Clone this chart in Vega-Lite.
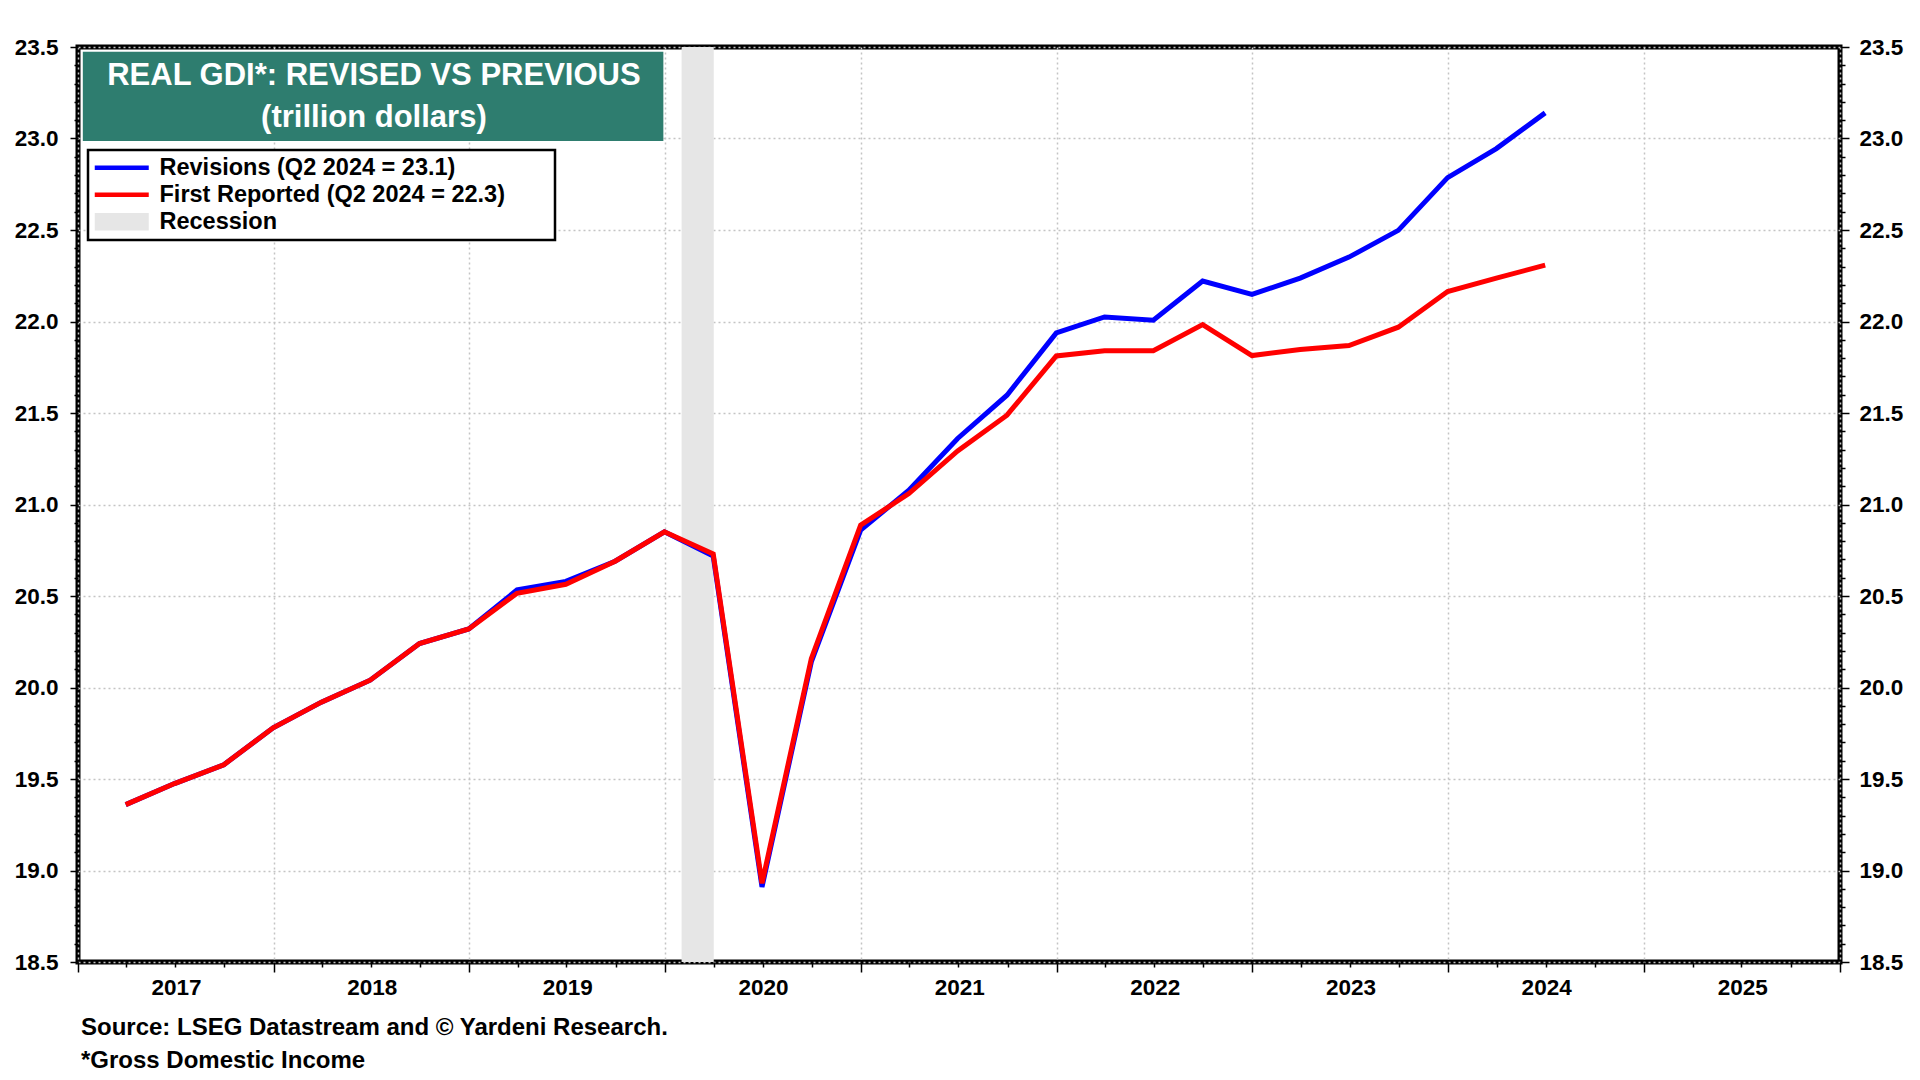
{
  "$schema": "https://vega.github.io/schema/vega-lite/v6.json",
  "width": 1762,
  "height": 915,
  "autosize": {"type": "none"},
  "padding": {"left": 78, "top": 47, "right": 80, "bottom": 118},
  "background": "white",
  "title": {
    "text": ["Source: LSEG Datastream and © Yardeni Research.", "*Gross Domestic Income"],
    "orient": "bottom",
    "anchor": "start",
    "frame": "group",
    "font": "Liberation Sans",
    "fontSize": 24,
    "fontWeight": "bold",
    "color": "black",
    "lineHeight": 33,
    "offset": 17,
    "dx": 3
  },
  "datasets": {
    "recession": [
      {"label": "Recession", "start": "2020-02-01T00:00:00", "end": "2020-04-01T00:00:00"}
    ],
    "gdi": [
      {"date": "2017-03-31T00:00:00", "series": "Revisions (Q2 2024 = 23.1)", "value": 19.36},
      {"date": "2017-06-30T00:00:00", "series": "Revisions (Q2 2024 = 23.1)", "value": 19.475},
      {"date": "2017-09-30T00:00:00", "series": "Revisions (Q2 2024 = 23.1)", "value": 19.578},
      {"date": "2017-12-31T00:00:00", "series": "Revisions (Q2 2024 = 23.1)", "value": 19.78},
      {"date": "2018-03-31T00:00:00", "series": "Revisions (Q2 2024 = 23.1)", "value": 19.92},
      {"date": "2018-06-30T00:00:00", "series": "Revisions (Q2 2024 = 23.1)", "value": 20.04},
      {"date": "2018-09-30T00:00:00", "series": "Revisions (Q2 2024 = 23.1)", "value": 20.24},
      {"date": "2018-12-31T00:00:00", "series": "Revisions (Q2 2024 = 23.1)", "value": 20.32},
      {"date": "2019-03-31T00:00:00", "series": "Revisions (Q2 2024 = 23.1)", "value": 20.533},
      {"date": "2019-06-30T00:00:00", "series": "Revisions (Q2 2024 = 23.1)", "value": 20.58},
      {"date": "2019-09-30T00:00:00", "series": "Revisions (Q2 2024 = 23.1)", "value": 20.69},
      {"date": "2019-12-31T00:00:00", "series": "Revisions (Q2 2024 = 23.1)", "value": 20.851},
      {"date": "2020-03-31T00:00:00", "series": "Revisions (Q2 2024 = 23.1)", "value": 20.718},
      {"date": "2020-06-30T00:00:00", "series": "Revisions (Q2 2024 = 23.1)", "value": 18.91},
      {"date": "2020-09-30T00:00:00", "series": "Revisions (Q2 2024 = 23.1)", "value": 20.14},
      {"date": "2020-12-31T00:00:00", "series": "Revisions (Q2 2024 = 23.1)", "value": 20.86},
      {"date": "2021-03-31T00:00:00", "series": "Revisions (Q2 2024 = 23.1)", "value": 21.078},
      {"date": "2021-06-30T00:00:00", "series": "Revisions (Q2 2024 = 23.1)", "value": 21.361},
      {"date": "2021-09-30T00:00:00", "series": "Revisions (Q2 2024 = 23.1)", "value": 21.597},
      {"date": "2021-12-31T00:00:00", "series": "Revisions (Q2 2024 = 23.1)", "value": 21.938},
      {"date": "2022-03-31T00:00:00", "series": "Revisions (Q2 2024 = 23.1)", "value": 22.025},
      {"date": "2022-06-30T00:00:00", "series": "Revisions (Q2 2024 = 23.1)", "value": 22.007},
      {"date": "2022-09-30T00:00:00", "series": "Revisions (Q2 2024 = 23.1)", "value": 22.221},
      {"date": "2022-12-31T00:00:00", "series": "Revisions (Q2 2024 = 23.1)", "value": 22.148},
      {"date": "2023-03-31T00:00:00", "series": "Revisions (Q2 2024 = 23.1)", "value": 22.237},
      {"date": "2023-06-30T00:00:00", "series": "Revisions (Q2 2024 = 23.1)", "value": 22.352},
      {"date": "2023-09-30T00:00:00", "series": "Revisions (Q2 2024 = 23.1)", "value": 22.498},
      {"date": "2023-12-31T00:00:00", "series": "Revisions (Q2 2024 = 23.1)", "value": 22.786},
      {"date": "2024-03-31T00:00:00", "series": "Revisions (Q2 2024 = 23.1)", "value": 22.945},
      {"date": "2024-06-30T00:00:00", "series": "Revisions (Q2 2024 = 23.1)", "value": 23.14},
      {"date": "2017-03-31T00:00:00", "series": "First Reported (Q2 2024 = 22.3)", "value": 19.36},
      {"date": "2017-06-30T00:00:00", "series": "First Reported (Q2 2024 = 22.3)", "value": 19.475},
      {"date": "2017-09-30T00:00:00", "series": "First Reported (Q2 2024 = 22.3)", "value": 19.578},
      {"date": "2017-12-31T00:00:00", "series": "First Reported (Q2 2024 = 22.3)", "value": 19.78},
      {"date": "2018-03-31T00:00:00", "series": "First Reported (Q2 2024 = 22.3)", "value": 19.92},
      {"date": "2018-06-30T00:00:00", "series": "First Reported (Q2 2024 = 22.3)", "value": 20.04},
      {"date": "2018-09-30T00:00:00", "series": "First Reported (Q2 2024 = 22.3)", "value": 20.24},
      {"date": "2018-12-31T00:00:00", "series": "First Reported (Q2 2024 = 22.3)", "value": 20.32},
      {"date": "2019-03-31T00:00:00", "series": "First Reported (Q2 2024 = 22.3)", "value": 20.515},
      {"date": "2019-06-30T00:00:00", "series": "First Reported (Q2 2024 = 22.3)", "value": 20.564},
      {"date": "2019-09-30T00:00:00", "series": "First Reported (Q2 2024 = 22.3)", "value": 20.69},
      {"date": "2019-12-31T00:00:00", "series": "First Reported (Q2 2024 = 22.3)", "value": 20.851},
      {"date": "2020-03-31T00:00:00", "series": "First Reported (Q2 2024 = 22.3)", "value": 20.73},
      {"date": "2020-06-30T00:00:00", "series": "First Reported (Q2 2024 = 22.3)", "value": 18.93},
      {"date": "2020-09-30T00:00:00", "series": "First Reported (Q2 2024 = 22.3)", "value": 20.158},
      {"date": "2020-12-31T00:00:00", "series": "First Reported (Q2 2024 = 22.3)", "value": 20.887},
      {"date": "2021-03-31T00:00:00", "series": "First Reported (Q2 2024 = 22.3)", "value": 21.06},
      {"date": "2021-06-30T00:00:00", "series": "First Reported (Q2 2024 = 22.3)", "value": 21.293},
      {"date": "2021-09-30T00:00:00", "series": "First Reported (Q2 2024 = 22.3)", "value": 21.488},
      {"date": "2021-12-31T00:00:00", "series": "First Reported (Q2 2024 = 22.3)", "value": 21.812},
      {"date": "2022-03-31T00:00:00", "series": "First Reported (Q2 2024 = 22.3)", "value": 21.84},
      {"date": "2022-06-30T00:00:00", "series": "First Reported (Q2 2024 = 22.3)", "value": 21.84},
      {"date": "2022-09-30T00:00:00", "series": "First Reported (Q2 2024 = 22.3)", "value": 21.983},
      {"date": "2022-12-31T00:00:00", "series": "First Reported (Q2 2024 = 22.3)", "value": 21.814},
      {"date": "2023-03-31T00:00:00", "series": "First Reported (Q2 2024 = 22.3)", "value": 21.847},
      {"date": "2023-06-30T00:00:00", "series": "First Reported (Q2 2024 = 22.3)", "value": 21.869},
      {"date": "2023-09-30T00:00:00", "series": "First Reported (Q2 2024 = 22.3)", "value": 21.969},
      {"date": "2023-12-31T00:00:00", "series": "First Reported (Q2 2024 = 22.3)", "value": 22.164},
      {"date": "2024-03-31T00:00:00", "series": "First Reported (Q2 2024 = 22.3)", "value": 22.237},
      {"date": "2024-06-30T00:00:00", "series": "First Reported (Q2 2024 = 22.3)", "value": 22.308}
    ]
  },
  "layer": [
    {
      "data": {"name": "recession"},
      "mark": {"type": "rect"},
      "encoding": {
        "x": {
          "field": "start",
          "type": "temporal",
          "scale": {
            "domain": [{"year": 2017, "month": 1, "date": 1}, {"year": 2026, "month": 1, "date": 1}],
            "nice": false
          },
          "axis": {
            "orient": "bottom",
            "title": null,
            "tickCount": {"interval": "month", "step": 3},
            "labelExpr": "month(datum.value) == 0 && year(datum.value) < 2026 ? timeFormat(datum.value, '%Y') : ''",
            "labelOffset": 98,
            "labelFlush": false,
            "labelOverlap": false,
            "labelPadding": 4,
            "labelFontSize": 22.5,
            "tickSize": {"condition": {"test": "month(datum.value) == 0", "value": 10}, "value": 5},
            "grid": true,
            "gridOpacity": {"condition": {"test": "month(datum.value) == 0", "value": 1}, "value": 0}
          }
        },
        "x2": {"field": "end"},
        "color": {
          "field": "label",
          "type": "nominal",
          "scale": {
            "domain": ["Revisions (Q2 2024 = 23.1)", "First Reported (Q2 2024 = 22.3)", "Recession"],
            "range": ["#0000ff", "#ff0000", "#e6e6e6"]
          },
          "legend": {
            "orient": "none",
            "legendX": 10,
            "legendY": 103,
            "title": " ",
            "titleOrient": "right",
            "titleFontSize": 11,
            "titlePadding": 44,
            "direction": "vertical",
            "strokeColor": "black",
            "fillColor": "white",
            "padding": 6,
            "symbolSize": 400,
            "symbolOffset": 16,
            "symbolStrokeWidth": 0,
            "labelFont": "Liberation Sans",
            "labelFontSize": 23.5,
            "labelFontWeight": "bold",
            "labelColor": "black",
            "labelOffset": 26,
            "labelLimit": 0,
            "rowPadding": 2,
            "encode": {
              "legend": {
                "update": {"strokeWidth": {"value": 2.5}}
              },
              "symbols": {
                "update": {
                  "shape": {"signal": "datum.value === 'Recession' ? 'M-2.7,-0.88H2.7V0.88H-2.7Z' : 'M-2.7,-0.22H2.7V0.22H-2.7Z'"},
                  "fill": {"signal": "scale('color', datum.value)"},
                  "stroke": {"value": "transparent"},
                  "strokeWidth": {"value": 0},
                  "opacity": {"value": 1}
                }
              }
            }
          }
        }
      }
    },
    {
      "data": {"values": [{"box": "title"}]},
      "mark": {"type": "rect", "color": "#2e7d6f"},
      "encoding": {
        "x": {"datum": {"year": 2017, "month": 1, "date": 10}, "type": "temporal"},
        "x2": {"datum": {"year": 2019, "month": 12, "date": 29}},
        "y": {"datum": 23.474, "type": "quantitative", "scale": {"domain": [18.5, 23.5], "nice": false, "zero": false}, "axis": null},
        "y2": {"datum": 22.986}
      }
    },
    {
      "data": {"values": [{"box": "title"}]},
      "mark": {
        "type": "text",
        "font": "Liberation Sans",
        "fontSize": 31,
        "fontWeight": "bold",
        "color": "white",
        "align": "center",
        "baseline": "alphabetic",
        "lineHeight": 42
      },
      "encoding": {
        "x": {"datum": {"year": 2018, "month": 7, "date": 7}, "type": "temporal"},
        "y": {"datum": 23.291, "type": "quantitative", "scale": {"domain": [18.5, 23.5], "nice": false, "zero": false}, "axis": null},
        "text": {"value": ["REAL GDI*: REVISED VS PREVIOUS", "(trillion dollars)"]}
      }
    },
    {
      "data": {"name": "gdi"},
      "transform": [{"filter": "datum.series === 'Revisions (Q2 2024 = 23.1)'"}],
      "mark": {"type": "line", "strokeWidth": 5},
      "encoding": {
        "x": {"field": "date", "type": "temporal"},
        "y": {
          "field": "value",
          "type": "quantitative",
          "scale": {"domain": [18.5, 23.5], "nice": false, "zero": false},
          "axis": {
            "orient": "left",
            "title": null,
            "values": [18.5, 18.6, 18.7, 18.8, 18.9, 19.0, 19.1, 19.2, 19.3, 19.4, 19.5, 19.6, 19.7, 19.8, 19.9, 20.0, 20.1, 20.2, 20.3, 20.4, 20.5, 20.6, 20.7, 20.8, 20.9, 21.0, 21.1, 21.2, 21.3, 21.4, 21.5, 21.6, 21.7, 21.8, 21.9, 22.0, 22.1, 22.2, 22.3, 22.4, 22.5, 22.6, 22.7, 22.8, 22.9, 23.0, 23.1, 23.2, 23.3, 23.4, 23.5],
            "labelExpr": "abs(datum.value * 2 - round(datum.value * 2)) < 0.01 ? format(datum.value, '.1f') : ''",
            "labelOverlap": false,
            "labelPadding": 12,
            "tickSize": {"condition": {"test": "abs(datum.value * 2 - round(datum.value * 2)) < 0.01", "value": 8}, "value": 4},
            "grid": true,
            "gridOpacity": {"condition": {"test": "abs(datum.value * 2 - round(datum.value * 2)) < 0.01", "value": 1}, "value": 0}
          }
        },
        "color": {"field": "series", "type": "nominal"}
      }
    },
    {
      "data": {"name": "gdi"},
      "transform": [{"filter": "datum.series === 'First Reported (Q2 2024 = 22.3)'"}],
      "mark": {"type": "line", "strokeWidth": 5},
      "encoding": {
        "x": {"field": "date", "type": "temporal"},
        "y": {
          "field": "value",
          "type": "quantitative",
          "scale": {"domain": [18.5, 23.5], "nice": false, "zero": false},
          "axis": {
            "orient": "right",
            "title": null,
            "values": [18.5, 18.6, 18.7, 18.8, 18.9, 19.0, 19.1, 19.2, 19.3, 19.4, 19.5, 19.6, 19.7, 19.8, 19.9, 20.0, 20.1, 20.2, 20.3, 20.4, 20.5, 20.6, 20.7, 20.8, 20.9, 21.0, 21.1, 21.2, 21.3, 21.4, 21.5, 21.6, 21.7, 21.8, 21.9, 22.0, 22.1, 22.2, 22.3, 22.4, 22.5, 22.6, 22.7, 22.8, 22.9, 23.0, 23.1, 23.2, 23.3, 23.4, 23.5],
            "labelExpr": "abs(datum.value * 2 - round(datum.value * 2)) < 0.01 ? format(datum.value, '.1f') : ''",
            "labelOverlap": false,
            "labelPadding": 10,
            "tickSize": {"condition": {"test": "abs(datum.value * 2 - round(datum.value * 2)) < 0.01", "value": 9}, "value": 5},
            "grid": false
          }
        },
        "color": {"field": "series", "type": "nominal"}
      }
    }
  ],
  "resolve": {"scale": {"y": "independent"}, "axis": {"y": "independent"}},
  "config": {
    "font": "Liberation Sans",
    "view": {"stroke": "black", "strokeWidth": 5},
    "axis": {
      "labelFont": "Liberation Sans",
      "labelFontSize": 22.5,
      "labelFontWeight": "bold",
      "labelColor": "black",
      "domain": false,
      "tickColor": "black",
      "tickWidth": 1.5,
      "gridColor": "#c4c4c4",
      "gridDash": [2, 3],
      "gridWidth": 1.5
    }
  }
}
